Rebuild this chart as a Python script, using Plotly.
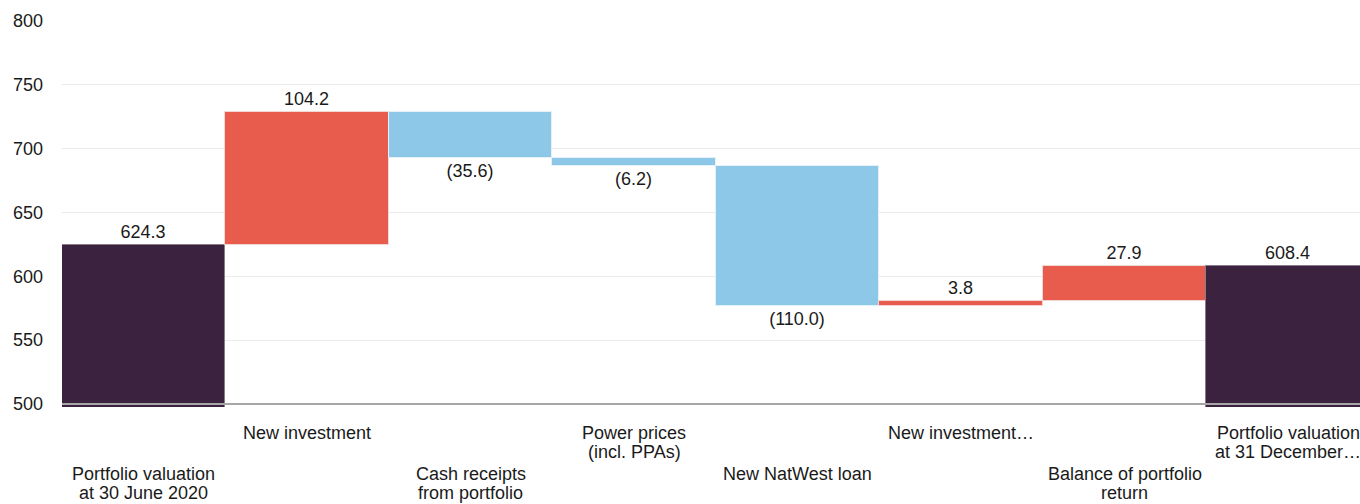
import plotly.graph_objects as go

# Portfolio valuation bridge (GBP m)
categories = [
    "Portfolio valuation<br>at 30 June 2020",
    "New investment",
    "Cash receipts<br>from portfolio",
    "Power prices<br>(incl. PPAs)",
    "New NatWest loan",
    "New investment…",
    "Balance of portfolio<br>return",
    "Portfolio valuation<br>at 31 December…",
]
measures = ["absolute", "relative", "relative", "relative", "relative", "relative", "relative", "total"]
values = [624.3, 104.2, -35.6, -6.2, -110.0, 3.8, 27.9, 608.4]
y_ticks = [500, 550, 600, 650, 700, 750, 800]

_FONT = "Liberation Sans, Arial, sans-serif"
_RED = "#E85C4E"
_BLUE = "#8EC8E8"
_DARK = "#3B233F"
_TXT = "#1a1a1a"


def _fmt(v: float) -> str:
    return f"({abs(v):.1f})" if v < 0 else f"{v:.1f}"


x = list(range(len(categories)))

fig = go.Figure(
    go.Waterfall(
        x=x,
        y=values,
        measure=measures,
        text=[_fmt(v) for v in values],
        textposition="outside",
        textfont=dict(size=18, color=_TXT, family=_FONT),
        increasing=dict(marker=dict(color=_RED, line=dict(color="#F4D6D2", width=1))),
        decreasing=dict(marker=dict(color=_BLUE, line=dict(color="#E4F1F9", width=1))),
        totals=dict(marker=dict(color=_DARK, line=dict(color="#8A7A8C", width=1))),
        connector=dict(visible=False),
        hoverinfo="skip",
    )
)

# staggered category labels, one annotation per line (tighter line spacing)
for i, label in enumerate(categories):
    first = 26 if i % 2 else 67
    for k, line in enumerate(label.split("<br>")):
        fig.add_annotation(
            x=i,
            xref="x",
            y=0,
            yref="paper",
            yanchor="middle",
            yshift=-(first + 19 * k),
            text=line,
            showarrow=False,
            borderpad=0,
            font=dict(size=18, color=_TXT, family=_FONT),
        )

# axis baseline at 500, drawn over the total bars
fig.add_shape(
    type="line",
    xref="paper",
    x0=0,
    x1=1,
    yref="y",
    y0=500,
    y1=500,
    line=dict(color="#A6A6A6", width=2),
    layer="above",
)

fig.update_layout(
    width=1360,
    height=504,
    margin=dict(l=62, r=0, t=21, b=97),
    plot_bgcolor="white",
    paper_bgcolor="white",
    waterfallgap=0,
    showlegend=False,
    font=dict(family=_FONT, size=18, color=_TXT),
    xaxis=dict(
        range=[-0.5, 7.44],
        showticklabels=False,
        showgrid=False,
        zeroline=False,
        showline=False,
    ),
    yaxis=dict(
        range=[497.6, 800],
        tickvals=y_ticks,
        ticks="",
        ticklabelstandoff=18,
        showgrid=True,
        gridcolor="#EBEBEB",
        gridwidth=1,
        zeroline=False,
        showline=False,
        tickfont=dict(size=18, color=_TXT, family=_FONT),
    ),
)

fig.write_html(
    "out.html",
    config={"displayModeBar": False},
    post_script="document.body.style.margin='0';document.body.style.overflow='hidden';",
)
